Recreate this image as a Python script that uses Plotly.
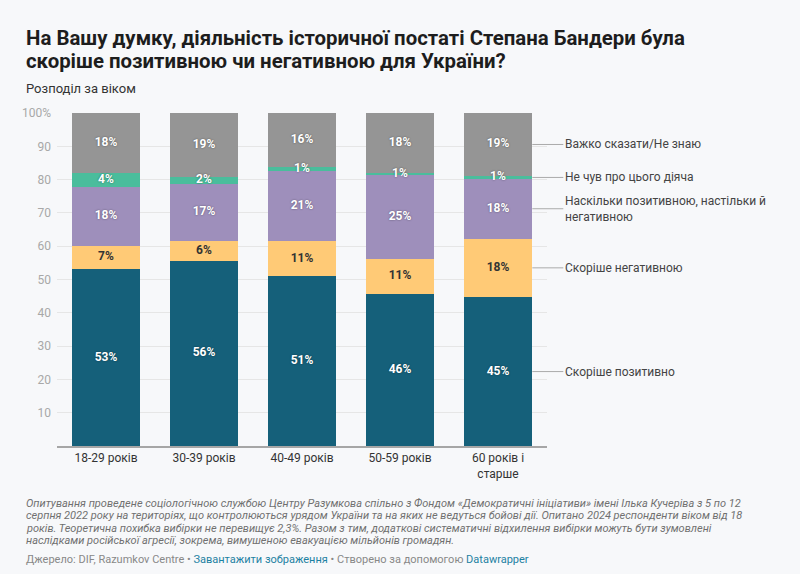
import plotly.graph_objects as go

categories = ["18-29 років", "30-39 років", "40-49 років", "50-59 років", "60 років і<br>старше"]
series_names = ["Скоріше позитивно", "Скоріше негативною",
                "Наскільки позитивною, настільки й<br>негативною",
                "Не чув про цього діяча", "Важко сказати/Не знаю"]
positive = [53.1, 55.6, 51.0, 45.7, 44.7]
negative = [7.1, 6.0, 10.6, 10.6, 17.6]
both = [17.6, 17.1, 20.9, 25.0, 17.9]
not_heard = [4.1, 2.2, 1.2, 0.7, 0.9]
hard = [18.1, 19.1, 16.3, 18.0, 18.9]
y_tickvals = [10, 20, 30, 40, 50, 60, 70, 80, 90, 100]
y_ticktext = ["10", "20", "30", "40", "50", "60", "70", "80", "90", "100%"]

series = [positive, negative, both, not_heard, hard]
colors = ["#15607a", "#ffca76", "#9e8fbb", "#4abd9c", "#959595"]
text_colors = ["#ffffff", "#333333", "#ffffff", "#ffffff", "#ffffff"]

W, H = 800, 574
ML, MR, MT, MB = 57, 253, 113, 128
PW, PH = W - ML - MR, H - MT - MB
BARGAP = 0.3


def px(x):
    return (x - ML) / PW


def py(y):
    return (H - MB - y) / PH


FONT = "Roboto"
fig = go.Figure()
for name, vals, col in zip(series_names, series, colors):
    fig.add_trace(go.Bar(x=categories, y=vals, name=name, marker=dict(color=col, line=dict(width=0)),
                         hoverinfo="skip"))

# value labels
base = [0.0] * len(categories)
for vals, tcol in zip(series, text_colors):
    mids = [b + v / 2 for b, v in zip(base, vals)]
    shadow = "none" if tcol != "#ffffff" else "0px 0px 2px rgba(0,0,0,0.45)"
    fig.add_trace(go.Scatter(x=categories, y=mids, mode="text", text=[f"{round(v)}%" for v in vals],
                             textfont=dict(family=FONT, size=12, color=tcol, weight="bold", shadow=shadow),
                             cliponaxis=False, hoverinfo="skip", showlegend=False))
    base = [b + v for b, v in zip(base, vals)]

annotations = []
# right-side labels with leader lines
n = len(categories)
edge = (n - 1 + (1 - BARGAP) / 2 + 0.5) / n
b = 0.0
for name, vals in zip(series_names, series):
    v = vals[-1]
    annotations.append(dict(x=edge, y=b + v / 2, xref="paper", yref="y", text=name, showarrow=True,
                            arrowhead=0, arrowwidth=1, arrowcolor="#aaaaaa", ax=31, ay=0,
                            xanchor="left", yanchor="middle", align="left",
                            font=dict(family=FONT, size=12, color="#444444")))
    b += v

# title / subtitle
annotations.append(dict(x=px(24), y=py(38), xref="paper", yref="paper", xanchor="left", yanchor="middle",
                        text="<b>На Вашу думку, діяльність історичної постаті Степана Бандери була</b>",
                        showarrow=False, font=dict(family=FONT, size=20.4, color="#1d1d1d")))
annotations.append(dict(x=px(24), y=py(61), xref="paper", yref="paper", xanchor="left", yanchor="middle",
                        text="<b>скоріше позитивною чи негативною для України?</b>",
                        showarrow=False, font=dict(family=FONT, size=20.4, color="#1d1d1d")))
annotations.append(dict(x=px(24), y=py(88), xref="paper", yref="paper", xanchor="left", yanchor="middle",
                        text="Розподіл за віком", showarrow=False,
                        font=dict(family=FONT, size=13, color="#333333")))

notes = [
    "Опитування проведене соціологічною службою Центру Разумкова спільно з Фондом «Демократичні ініціативи» імені Ілька Кучеріва з 5 по 12",
    "серпня 2022 року на територіях, що контролюються урядом України та на яких не ведуться бойові дії. Опитано 2024 респонденти віком від 18",
    "років. Теоретична похибка вибірки не перевищує 2,3%. Разом з тим, додаткові систематичні відхилення вибірки можуть бути зумовлені",
    "наслідками російської агресії, зокрема, вимушеною евакуацією мільйонів громадян.",
]
for i, t in enumerate(notes):
    annotations.append(dict(x=px(24), y=py(503 + 12.6 * i), xref="paper", yref="paper", xanchor="left",
                            yanchor="middle", text=f"<i>{t}</i>", showarrow=False,
                            font=dict(family=FONT, size=11, color="#707070")))
annotations.append(dict(x=px(24), y=py(559), xref="paper", yref="paper", xanchor="left", yanchor="middle",
                        text="Джерело: DIF, Razumkov Centre • <span style='color:#1d81a2'>Завантажити зображення</span>"
                             " • Створено за допомогою <span style='color:#1d81a2'>Datawrapper</span>",
                        showarrow=False, font=dict(family=FONT, size=11, color="#888888")))

fig.update_layout(
    barmode="stack", bargap=BARGAP, width=W, height=H, autosize=False,
    margin=dict(l=ML, r=MR, t=MT, b=MB, pad=0),
    paper_bgcolor="#f7f8fa", plot_bgcolor="#f7f8fa", showlegend=False,
    font=dict(family=FONT, color="#333333"),
    annotations=annotations,
    xaxis=dict(showgrid=False, showline=True, linecolor="#a6a6a6", linewidth=2, ticks="",
               tickfont=dict(family=FONT, size=12, color="#333333"), fixedrange=True, zeroline=False),
    yaxis=dict(range=[0, 100], tickvals=y_tickvals, ticktext=y_ticktext, showgrid=True,
               gridcolor="#e6e6e6", gridwidth=1, zeroline=False, showline=False, ticks="",
               ticklabelstandoff=5, tickfont=dict(family=FONT, size=12, color="#a8a8a8"), fixedrange=True),
)

fig.write_html("out.html", config={"displayModeBar": False})
